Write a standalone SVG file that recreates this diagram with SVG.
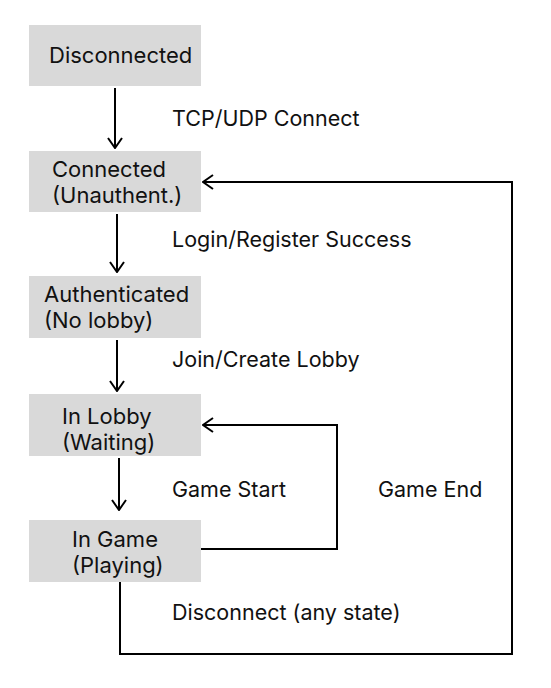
<svg xmlns="http://www.w3.org/2000/svg" width="551" height="688" viewBox="0 0 551 688">
<defs>
<style>
.box{fill:#d9d9d9;}
.t{font-family:Inter,"Noto Sans",sans-serif;font-size:22px;fill:#111;}
.l{font-family:Inter,"Noto Sans",sans-serif;font-size:21.5px;fill:#111;}
.c{fill:none;stroke:#000;stroke-width:2;}
</style>
<marker id="arr" viewBox="0 0 12 16" refX="11" refY="8" markerWidth="12" markerHeight="16" markerUnits="userSpaceOnUse" orient="auto">
<polyline points="1,1 11,8 1,15" fill="none" stroke="#000" stroke-width="2"/>
</marker>
</defs>
<rect width="551" height="688" fill="#fff"/>
<g id="disconnected"><rect class="box" x="29" y="25" width="172" height="61"/><text class="t" x="49" y="63">Disconnected</text></g>
<g id="connected"><rect class="box" x="29" y="151" width="172" height="61"/><text class="t" x="52" y="177">Connected</text><text class="t" x="52" y="203">(Unauthent.)</text></g>
<g id="authenticated"><rect class="box" x="29" y="276" width="172" height="62"/><text class="t" x="44" y="302">Authenticated</text><text class="t" x="44" y="328">(No lobby)</text></g>
<g id="inlobby"><rect class="box" x="29" y="394" width="172" height="62"/><text class="t" x="62" y="424">In Lobby</text><text class="t" x="62" y="450">(Waiting)</text></g>
<g id="ingame"><rect class="box" x="29" y="520" width="172" height="62"/><text class="t" x="72" y="547">In Game</text><text class="t" x="72" y="573">(Playing)</text></g>
<g id="connectors">
<line class="c" x1="115" y1="88" x2="115" y2="148" marker-end="url(#arr)"/>
<line class="c" x1="117" y1="214" x2="117" y2="272" marker-end="url(#arr)"/>
<line class="c" x1="117" y1="340" x2="117" y2="391" marker-end="url(#arr)"/>
<line class="c" x1="119" y1="458" x2="119" y2="510" marker-end="url(#arr)"/>
<polyline class="c" points="201,549 337,549 337,425 203,425" marker-end="url(#arr)"/>
<polyline class="c" points="120,582 120,654 512,654 512,182 203,182" marker-end="url(#arr)"/>
</g>
<g id="labels">
<text class="l" x="172" y="126">TCP/UDP Connect</text>
<text class="l" x="172" y="247">Login/Register Success</text>
<text class="l" x="172" y="367">Join/Create Lobby</text>
<text class="l" x="172" y="497">Game Start</text>
<text class="l" x="378" y="497">Game End</text>
<text class="l" x="172" y="620">Disconnect (any state)</text>
</g>
</svg>
